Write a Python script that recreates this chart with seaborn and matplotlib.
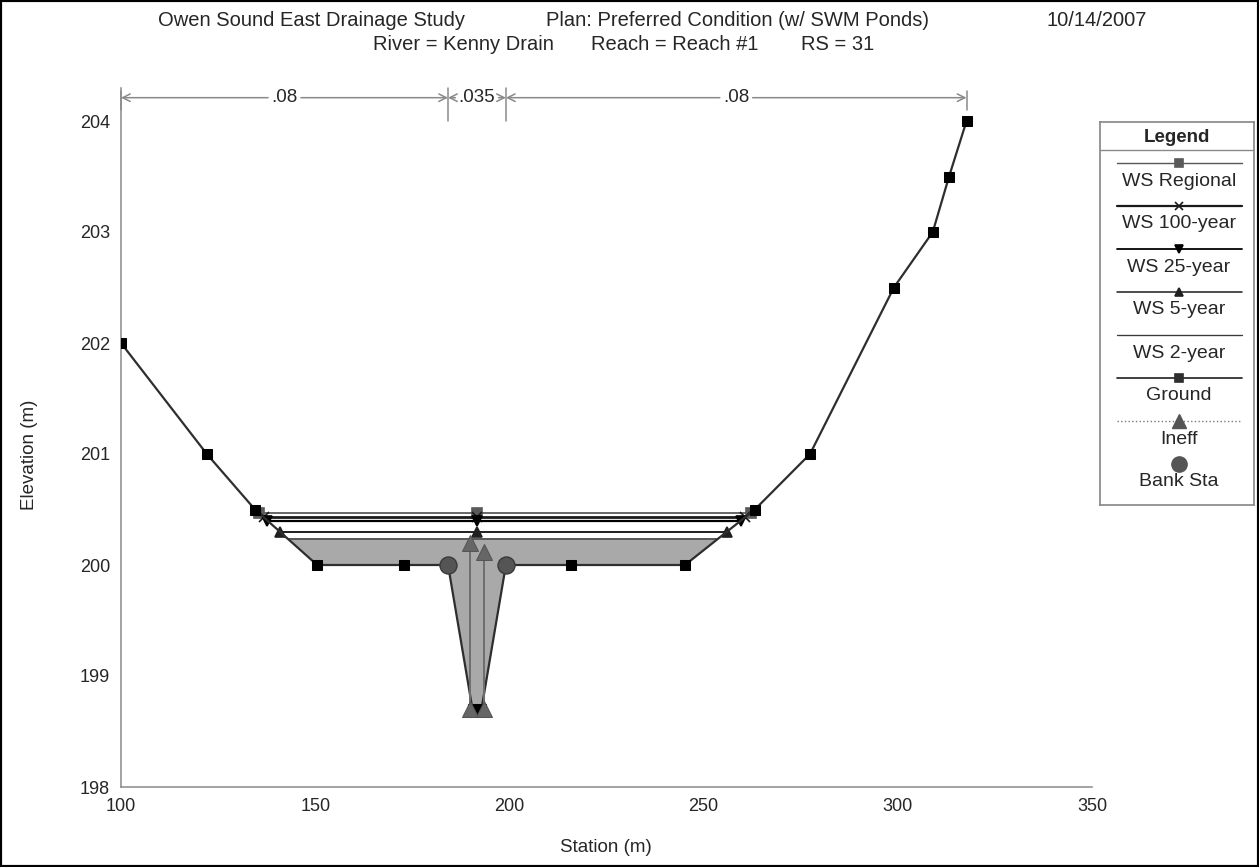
import numpy as np
import pandas as pd
import matplotlib
matplotlib.use('Agg')
import matplotlib.pyplot as plt
from matplotlib.patches import Rectangle
from matplotlib.ticker import MultipleLocator
import seaborn as sns

# ground profile of the cross section
station = [100.0, 122.1, 134.5, 150.5, 172.9, 184.2, 190.5, 192.8, 199.1,
           215.9, 245.2, 263.2, 277.4, 299.0, 309.0, 313.2, 317.7]
elevation = [202.0, 201.0, 200.5, 200.0, 200.0, 200.0, 198.7, 198.7, 200.0,
             200.0, 200.0, 200.5, 201.0, 202.5, 203.0, 203.5, 204.0]

bank_sta = [184.2, 199.1]

# water surfaces
ws_names = ['WS Regional', 'WS 100-year', 'WS 25-year', 'WS 5-year', 'WS 2-year']
ws_elev = [200.47, 200.43, 200.40, 200.30, 200.23]
ws_markers = ['s', 'x', 'v', '^', None]
ws_colors = ['#5a5a5a', '#1a1a1a', '#000000', '#202020', '#3a3a3a']
ws_widths = [1.3, 2.0, 1.6, 1.4, 1.2]

# ineffective flow limits
ineff_sta = [189.8, 193.5]
ineff_top = [200.20, 200.12]
ineff_bottom = [198.7, 198.7]

# manning's n
n_values = ['.08', '.035', '.08']
n_breaks = [100.0, 184.2, 199.1, 317.7]

title_parts = [('Owen Sound East Drainage Study', 312, 20),
               ('Plan: Preferred Condition (w/ SWM Ponds)', 737, 20),
               ('10/14/2007', 1097, 20),
               ('River = Kenny Drain', 463, 45),
               ('Reach = Reach #1', 675, 45),
               ('RS = 31', 838, 45)]

sns.set_theme(style='white')
plt.rcParams['font.family'] = ['Liberation Sans', 'DejaVu Sans']

W, H = 1259, 867
fig = plt.figure(figsize=(W / 100, H / 100), dpi=100)
ax = fig.add_axes([121 / W, 1 - 787 / H, 971 / W, (787 - 87.7) / H])

sta = np.array(station)
elv = np.array(elevation)

# fill for the lowest water surface
ax.fill_between(sta, elv, ws_elev[-1], where=elv <= ws_elev[-1], interpolate=True,
                color='#a9a9a9', linewidth=0, zorder=1)

# water surface lines, ends found where they meet the ground
left = sta <= bank_sta[0]
right = sta >= bank_sta[1]
mid_sta = (bank_sta[0] + bank_sta[1]) / 2
for name, e, m, c, lw in zip(ws_names, ws_elev, ws_markers, ws_colors, ws_widths):
    xl = np.interp(e, elv[left][::-1], sta[left][::-1])
    xr = np.interp(e, elv[right], sta[right])
    df = pd.DataFrame({'station': [xl, mid_sta, xr], 'elev': [e, e, e]})
    sns.lineplot(data=df, x='station', y='elev', ax=ax, color=c, linewidth=lw,
                 marker=m, markersize=7, markeredgecolor=c, markerfacecolor=c,
                 markeredgewidth=1.2, estimator=None, sort=False, zorder=3)

# ground
gdf = pd.DataFrame({'station': station, 'elev': elevation})
sns.lineplot(data=gdf, x='station', y='elev', ax=ax, color='#2e2e2e', linewidth=1.6,
             marker='s', markersize=7.5, markeredgecolor='black', markerfacecolor='black',
             estimator=None, sort=False, zorder=4)

# ineffective flow
for s, b, t in zip(ineff_sta, ineff_bottom, ineff_top):
    idf = pd.DataFrame({'station': [s, s], 'elev': [b, t]})
    sns.lineplot(data=idf, x='station', y='elev', ax=ax, color='#6e6e6e', linewidth=1.4,
                 marker='^', markersize=11, markeredgecolor='#555555',
                 markerfacecolor='#666666', estimator=None, sort=False, zorder=5)

# bank stations
bank_elev = np.interp(bank_sta, sta, elv)
sns.scatterplot(x=bank_sta, y=bank_elev, ax=ax, s=150, color='#555555',
                edgecolor='#3a3a3a', linewidth=1, zorder=6)

# manning's n across the top
n_y = 204.21
for i, nv in enumerate(n_values):
    a, b = n_breaks[i], n_breaks[i + 1]
    mid = (a + b) / 2
    for end, alpha in ((a, 1), (b, 0)):
        ax.annotate(nv, xy=(end, n_y), xytext=(mid, n_y), ha='center', va='center',
                    fontsize=13.5, alpha=alpha,
                    arrowprops=dict(arrowstyle='->', color='#8a8a8a', lw=1.1,
                                    shrinkA=0, shrinkB=0))
for s in n_breaks[1:-1]:
    ax.plot([s, s], [204.0, 204.3], color='#8a8a8a', lw=1.1, clip_on=False)
for s in (n_breaks[0], n_breaks[-1]):
    ax.plot([s, s], [204.1, 204.27], color='#8a8a8a', lw=1.1, clip_on=False)

ax.set_xlim(100, 350)
ax.set_ylim(198, 204.3)
ax.xaxis.set_major_locator(MultipleLocator(50))
ax.xaxis.set_minor_locator(MultipleLocator(10))
ax.yaxis.set_major_locator(MultipleLocator(1))
ax.yaxis.set_minor_locator(MultipleLocator(0.2))
ax.tick_params(which='both', direction='out', color='#8a8a8a', width=1)
ax.tick_params(which='major', length=6, labelsize=13, pad=2)
ax.tick_params(which='minor', length=4)
for side in ('top', 'right'):
    ax.spines[side].set_visible(False)
for side in ('left', 'bottom'):
    ax.spines[side].set_color('#8a8a8a')
    ax.spines[side].set_linewidth(1.1)
ax.set_xlabel('')
ax.set_ylabel('')
fig.text(606 / W, 1 - 848 / H, 'Station (m)', ha='center', va='center', fontsize=13.5)
fig.text(30 / W, 1 - 455 / H, 'Elevation (m)', ha='center', va='center',
         rotation=90, fontsize=13.5)

for txt, x, y in title_parts:
    fig.text(x / W, 1 - y / H, txt, ha='center', va='center', fontsize=14.5)

# legend panel
lax = fig.add_axes([1100 / W, 1 - 505 / H, 154 / W, (505 - 122) / H])
lax.set_xlim(1100, 1254)
lax.set_ylim(505, 122)
lax.set_xticks([])
lax.set_yticks([])
for sp in lax.spines.values():
    sp.set_color('#8a8a8a')
lax.text(1177, 137, 'Legend', ha='center', va='center', fontsize=13.5, fontweight='bold')
lax.plot([1100, 1254], [150, 150], color='#8a8a8a', lw=1)

leg_styles = [(n, m, c, lw) for n, m, c, lw in zip(ws_names, ws_markers, ws_colors, ws_widths)]
leg_styles.append(('Ground', 's', '#2e2e2e', 1.6))
for i, (n, m, c, lw) in enumerate(leg_styles):
    yl = 163 + 43 * i
    lax.plot([1117, 1242], [yl, yl], color=c, lw=lw * 0.8)
    if m:
        lax.plot([1179], [yl], marker=m, color=c, markersize=6, mew=1.2)
    lax.text(1179, yl + 18, n, ha='center', va='center', fontsize=14)
yi = 163 + 43 * 6
lax.plot([1117, 1242], [yi, yi], color='#7a7a7a', lw=1, ls=':')
lax.plot([1179], [yi], marker='^', color='#555555', markersize=10)
lax.text(1179, yi + 18, 'Ineff', ha='center', va='center', fontsize=14)
yb = 163 + 43 * 7
lax.plot([1179], [yb], marker='o', color='#555555', markersize=11)
lax.text(1179, yb + 18, 'Bank Sta', ha='center', va='center', fontsize=14)

fig.patches.append(Rectangle((0, 0), 1, 1, transform=fig.transFigure, fill=False,
                             edgecolor='black', linewidth=3))

fig.savefig('out.png', dpi=100)
